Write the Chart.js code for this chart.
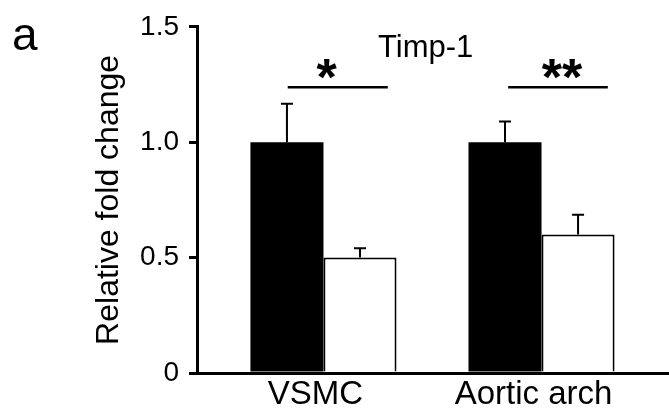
<!DOCTYPE html>
<html>
<head>
<meta charset="utf-8">
<script src="https://cdn.jsdelivr.net/npm/chart.js@4"></script>
<style>
  body { margin: 0; background: #fff; }
  canvas { display: block; }
</style>
</head>
<body>
<canvas id="grafico" width="669" height="417"></canvas>
<script>
const categorias = ['VSMC', 'Aortic arch'];
const controleMedia = [1.0, 1.0];
const controleErro = [0.167, 0.09];
const tratadoMedia = [0.50, 0.60];
const tratadoErro = [0.04, 0.086];

const yTicks = [0, 0.5, 1.0, 1.5];
const yTickLabels = ['0', '0.5', '1.0', '1.5'];

// linhas de significância (em unidades dos eixos)
const sigInicio = [0.836, 1.847];
const sigFim = [1.295, 2.304];
const sigY = [1.238, 1.238];
const sigTexto = ['*', '**'];
const sigTextoX = [1.014, 2.094];

const fonte = '"Liberation Sans", Arial, sans-serif';

const pontos = (medias) => categorias.map((c, i) => ({ x: i + 1, y: medias[i] }));

const extras = {
    id: 'extras',
    afterDatasetsDraw(chart) {
        const ctx = chart.ctx;
        const x = chart.scales.x;
        const y = chart.scales.y;
        const erros = [controleErro, tratadoErro];

        ctx.save();
        ctx.strokeStyle = '#000';
        ctx.lineWidth = 2;
        chart.data.datasets.forEach((ds, d) => {
            chart.getDatasetMeta(d).data.forEach((bar, i) => {
                const topo = y.getPixelForValue(ds.data[i].y + erros[d][i]);
                ctx.beginPath();
                ctx.moveTo(bar.x, bar.y);
                ctx.lineTo(bar.x, topo);
                ctx.moveTo(bar.x - 6, topo);
                ctx.lineTo(bar.x + 6, topo);
                ctx.stroke();
            });
        });

        ctx.lineWidth = 2.5;
        ctx.fillStyle = '#000';
        ctx.font = 'bold 52px ' + fonte;
        ctx.textAlign = 'center';
        ctx.textBaseline = 'alphabetic';
        sigTexto.forEach((t, i) => {
            const py = y.getPixelForValue(sigY[i]);
            ctx.beginPath();
            ctx.moveTo(x.getPixelForValue(sigInicio[i]), py);
            ctx.lineTo(x.getPixelForValue(sigFim[i]), py);
            ctx.stroke();
            ctx.fillText(t, x.getPixelForValue(sigTextoX[i]), py + 8);
        });

        ctx.textAlign = 'left';
        ctx.font = '31px ' + fonte;
        ctx.fillText('Timp-1', 378, 57);
        ctx.font = '46px ' + fonte;
        ctx.fillText('a', 12, 50);
        ctx.restore();
    }
};

const ctx = document.getElementById('grafico').getContext('2d');
const grafico = new Chart(ctx, {
    type: 'bar',
    data: {
        datasets: [
            {
                data: pontos(controleMedia),
                backgroundColor: '#000',
                borderWidth: 0
            },
            {
                data: pontos(tratadoMedia),
                backgroundColor: '#fff',
                borderColor: '#000',
                borderWidth: 2
            }
        ]
    },
    options: {
        responsive: false,
        animation: false,
        categoryPercentage: 0.67,
        barPercentage: 1,
        layout: { padding: { top: 24, right: 1, left: 0, bottom: 0 } },
        plugins: {
            legend: { display: false },
            tooltip: { enabled: false }
        },
        scales: {
            x: {
                type: 'linear',
                offset: false,
                min: 0.42,
                max: 2.58,
                afterBuildTicks: (s) => { s.ticks = categorias.map((c, i) => ({ value: i + 1 })); },
                afterFit: (s) => { s.height = 44; },
                grid: { display: false, drawTicks: false },
                border: { display: true, color: '#000', width: 3 },
                ticks: {
                    color: '#000',
                    padding: 2,
                    labelOffset: -8,
                    font: { family: fonte, size: 33 },
                    callback: (v, i) => categorias[i]
                }
            },
            y: {
                min: 0,
                max: 1.5,
                afterBuildTicks: (s) => { s.ticks = yTicks.map(v => ({ value: v })); },
                afterFit: (s) => { s.width = 197; },
                grid: { drawOnChartArea: false, color: '#000', lineWidth: 3, tickLength: 8 },
                border: { display: true, color: '#000', width: 3 },
                ticks: {
                    color: '#000',
                    padding: 10,
                    font: { family: fonte, size: 28 },
                    callback: (v, i) => yTickLabels[i]
                },
                title: {
                    display: true,
                    text: 'Relative fold change',
                    color: '#000',
                    font: { family: fonte, size: 32 },
                    padding: { top: 90, bottom: 0 }
                }
            }
        }
    },
    plugins: [extras]
});
</script>
</body>
</html>
